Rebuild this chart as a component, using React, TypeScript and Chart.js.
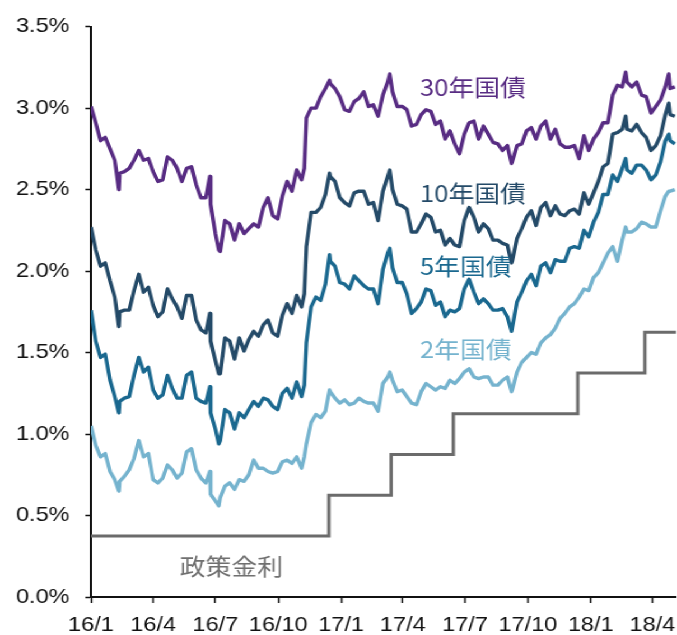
import { useEffect, useRef } from 'react';
import { Chart, registerables } from 'chart.js';

Chart.register(...registerables);

// Weekly observation dates (plus a few intra-week turning points)
const dates: string[] = [
  '2016-01-01','2016-01-08','2016-01-15','2016-01-22','2016-01-29','2016-02-05','2016-02-11','2016-02-12','2016-02-19','2016-02-26',
  '2016-03-04','2016-03-11','2016-03-18','2016-03-25','2016-04-01','2016-04-08','2016-04-15','2016-04-22','2016-04-29','2016-05-06',
  '2016-05-13','2016-05-20','2016-05-27','2016-06-03','2016-06-10','2016-06-17','2016-06-23','2016-06-24','2016-07-01','2016-07-06',
  '2016-07-08','2016-07-15','2016-07-22','2016-07-29','2016-08-05','2016-08-12','2016-08-19','2016-08-26','2016-09-02','2016-09-09',
  '2016-09-16','2016-09-23','2016-09-30','2016-10-07','2016-10-14','2016-10-21','2016-10-28','2016-11-04','2016-11-08','2016-11-11',
  '2016-11-18','2016-11-25','2016-12-02','2016-12-09','2016-12-15','2016-12-16','2016-12-23','2016-12-30',
  '2017-01-06','2017-01-13','2017-01-20','2017-01-27','2017-02-03','2017-02-10','2017-02-17','2017-02-24','2017-03-03','2017-03-10',
  '2017-03-13','2017-03-17','2017-03-24','2017-03-31','2017-04-07','2017-04-14','2017-04-21','2017-04-28','2017-05-05','2017-05-12',
  '2017-05-19','2017-05-26','2017-06-02','2017-06-09','2017-06-16','2017-06-23','2017-06-30','2017-07-07','2017-07-14','2017-07-21',
  '2017-07-28','2017-08-04','2017-08-11','2017-08-18','2017-08-25','2017-09-01','2017-09-07','2017-09-08','2017-09-15','2017-09-22',
  '2017-09-29','2017-10-06','2017-10-13','2017-10-20','2017-10-27','2017-11-03','2017-11-10','2017-11-17','2017-11-24','2017-12-01',
  '2017-12-08','2017-12-15','2017-12-22','2017-12-29',
  '2018-01-05','2018-01-12','2018-01-19','2018-01-26','2018-02-02','2018-02-09','2018-02-16','2018-02-21','2018-02-23','2018-03-02',
  '2018-03-09','2018-03-16','2018-03-23','2018-03-30','2018-04-06','2018-04-13','2018-04-20','2018-04-25','2018-04-27','2018-05-04',
];

const yield30: number[] = [
  3.01,2.91,2.80,2.82,2.75,2.68,2.50,2.60,2.61,2.63,
  2.68,2.74,2.68,2.69,2.61,2.55,2.56,2.70,2.68,2.63,
  2.55,2.63,2.64,2.53,2.45,2.45,2.58,2.41,2.23,2.13,
  2.12,2.31,2.29,2.19,2.29,2.23,2.26,2.29,2.27,2.39,
  2.45,2.34,2.32,2.46,2.55,2.49,2.62,2.56,2.63,2.94,
  3.00,3.00,3.07,3.12,3.17,3.15,3.12,3.07,
  2.99,2.98,3.04,3.06,3.10,3.01,3.02,2.95,3.08,3.16,
  3.21,3.10,3.01,3.01,2.99,2.89,2.90,2.96,2.99,2.98,
  2.90,2.92,2.81,2.86,2.78,2.72,2.84,2.91,2.92,2.81,
  2.89,2.84,2.79,2.78,2.74,2.77,2.66,2.67,2.77,2.78,
  2.86,2.88,2.81,2.89,2.92,2.81,2.87,2.78,2.76,2.76,
  2.77,2.69,2.83,2.74,
  2.81,2.85,2.91,2.91,3.08,3.14,3.13,3.22,3.16,3.13,
  3.16,3.08,3.07,2.97,3.01,3.05,3.13,3.21,3.12,3.13,
];

const yield10: number[] = [
  2.27,2.13,2.03,2.05,1.94,1.84,1.66,1.75,1.76,1.76,
  1.88,1.98,1.87,1.90,1.79,1.72,1.75,1.89,1.83,1.78,
  1.71,1.85,1.85,1.70,1.64,1.62,1.74,1.57,1.45,1.37,
  1.37,1.59,1.57,1.46,1.59,1.51,1.58,1.63,1.60,1.67,
  1.70,1.62,1.60,1.73,1.80,1.74,1.85,1.78,1.86,2.15,
  2.36,2.36,2.39,2.47,2.60,2.58,2.55,2.45,
  2.42,2.40,2.48,2.49,2.49,2.41,2.42,2.31,2.49,2.58,
  2.62,2.50,2.41,2.40,2.38,2.24,2.24,2.29,2.35,2.33,
  2.24,2.25,2.16,2.20,2.16,2.15,2.31,2.39,2.33,2.24,
  2.29,2.26,2.19,2.19,2.17,2.16,2.05,2.06,2.20,2.26,
  2.33,2.37,2.28,2.39,2.42,2.34,2.40,2.35,2.34,2.37,
  2.38,2.35,2.48,2.41,
  2.48,2.55,2.64,2.66,2.84,2.85,2.87,2.95,2.87,2.86,
  2.90,2.85,2.82,2.74,2.77,2.83,2.96,3.03,2.96,2.95,
];

const yield5: number[] = [
  1.76,1.57,1.47,1.49,1.33,1.23,1.13,1.20,1.22,1.23,
  1.36,1.47,1.38,1.41,1.27,1.22,1.24,1.36,1.28,1.22,
  1.22,1.36,1.38,1.22,1.20,1.19,1.29,1.13,1.03,0.94,
  0.96,1.15,1.13,1.03,1.13,1.10,1.15,1.20,1.17,1.22,
  1.21,1.17,1.15,1.25,1.28,1.22,1.32,1.23,1.30,1.56,
  1.78,1.84,1.82,1.92,2.10,2.06,2.03,1.93,
  1.92,1.89,1.97,1.94,1.91,1.89,1.89,1.80,2.01,2.11,
  2.14,2.02,1.93,1.93,1.86,1.74,1.77,1.81,1.89,1.88,
  1.79,1.81,1.72,1.76,1.75,1.77,1.89,1.95,1.87,1.80,
  1.83,1.80,1.76,1.76,1.77,1.72,1.63,1.65,1.81,1.87,
  1.94,1.98,1.91,2.03,2.05,1.99,2.07,2.06,2.06,2.14,
  2.15,2.14,2.25,2.21,
  2.30,2.36,2.47,2.47,2.59,2.55,2.63,2.69,2.62,2.60,
  2.65,2.65,2.62,2.56,2.59,2.67,2.80,2.84,2.80,2.78,
];

const yield2: number[] = [
  1.05,0.93,0.86,0.88,0.77,0.72,0.65,0.71,0.74,0.78,
  0.85,0.96,0.86,0.88,0.72,0.70,0.73,0.81,0.78,0.73,
  0.76,0.89,0.91,0.78,0.73,0.70,0.77,0.63,0.59,0.56,
  0.61,0.68,0.70,0.66,0.72,0.71,0.75,0.84,0.79,0.79,
  0.77,0.76,0.77,0.83,0.84,0.82,0.86,0.79,0.86,0.94,
  1.07,1.12,1.10,1.14,1.27,1.26,1.22,1.19,
  1.21,1.18,1.19,1.22,1.20,1.19,1.19,1.14,1.31,1.35,
  1.38,1.33,1.26,1.27,1.23,1.19,1.18,1.26,1.31,1.29,
  1.27,1.29,1.28,1.33,1.31,1.34,1.38,1.40,1.35,1.34,
  1.35,1.35,1.30,1.30,1.33,1.35,1.26,1.27,1.38,1.44,
  1.47,1.50,1.49,1.56,1.59,1.61,1.65,1.71,1.74,1.78,
  1.80,1.84,1.89,1.88,
  1.96,1.99,2.05,2.11,2.15,2.06,2.19,2.27,2.24,2.24,
  2.26,2.30,2.29,2.27,2.27,2.37,2.46,2.49,2.49,2.50,
];

// Policy rate (mid-point of the target range)
const policyDates: string[] = ['2016-01-01','2016-12-14','2017-03-15','2017-06-14','2017-12-13','2018-03-21','2018-05-06'];
const policyRate: number[] = [0.375,0.625,0.875,1.125,1.375,1.625,1.625];

const xTickDates: string[] = ['2016-01-01','2016-04-01','2016-07-01','2016-10-01','2017-01-01','2017-04-01','2017-07-01','2017-10-01','2018-01-01','2018-04-01'];
const xTickLabels: string[] = ['16/1','16/4','16/7','16/10','17/1','17/4','17/7','17/10','18/1','18/4'];
const xStart = '2016-01-01';
const xEnd = '2018-05-06';

const seriesLabels = [
  { text: '30年国債', date: '2017-04-26', value: 3.13, color: '#582C83' },
  { text: '10年国債', date: '2017-04-26', value: 2.48, color: '#244A68' },
  { text: '5年国債', date: '2017-04-26', value: 2.03, color: '#1A688F' },
  { text: '2年国債', date: '2017-04-26', value: 1.52, color: '#75B3CE' },
  { text: '政策金利', date: '2016-05-10', value: 0.19, color: '#707070' },
];

const toDay = (s: string) => {
  const [y, m, d] = s.split('-').map(Number);
  return (Date.UTC(y, m - 1, d) - Date.UTC(2016, 0, 1)) / 86400000;
};

const STRETCH = 1.12;
const WIDTH = 677 / STRETCH;
const HEIGHT = 635;
const tickFont = { family: '"Liberation Sans", Arial, sans-serif', size: 21 };

export default function App() {
  const ref = useRef<HTMLCanvasElement>(null);

  useEffect(() => {
    if (!ref.current) return;
    const pts = (vals: number[]) => dates.map((d, i) => ({ x: toDay(d), y: vals[i] }));
    const line = (label: string, vals: number[], color: string) => ({
      label,
      data: pts(vals),
      borderColor: color,
      backgroundColor: color,
      borderWidth: 3.4,
      pointRadius: 0,
      tension: 0,
      borderJoinStyle: 'round' as const,
    });

    const labelPlugin = {
      id: 'seriesLabels',
      afterDatasetsDraw(chart: any) {
        const { ctx, scales } = chart;
        ctx.save();
        ctx.font = '23px "Noto Sans CJK JP", sans-serif';
        ctx.textAlign = 'left';
        ctx.textBaseline = 'middle';
        for (const l of seriesLabels) {
          ctx.fillStyle = l.color;
          ctx.fillText(l.text, scales.x.getPixelForValue(toDay(l.date)), scales.y.getPixelForValue(l.value));
        }
        ctx.restore();
      },
    };

    const chart = new Chart(ref.current, {
      type: 'line',
      data: {
        datasets: [
          line('30年国債', yield30, '#582C83'),
          line('10年国債', yield10, '#244A68'),
          line('5年国債', yield5, '#1A688F'),
          line('2年国債', yield2, '#75B3CE'),
          {
            label: '政策金利',
            data: policyDates.map((d, i) => ({ x: toDay(d), y: policyRate[i] })),
            borderColor: '#6B6B6B',
            borderWidth: 3,
            pointRadius: 0,
            stepped: 'before',
          } as any,
        ],
      },
      options: {
        animation: false,
        responsive: true,
        maintainAspectRatio: false,
        layout: { padding: { top: 23, right: 0, bottom: 0, left: 0 } },
        plugins: { legend: { display: false }, tooltip: { enabled: false } },
        scales: {
          x: {
            type: 'linear',
            min: toDay(xStart),
            max: toDay(xEnd),
            afterBuildTicks: (s: any) => {
              s.ticks = xTickDates.map((d) => ({ value: toDay(d) }));
            },
            afterFit: (s: any) => {
              s.height = 38;
              s.paddingLeft = 0;
              s.paddingRight = 0;
            },
            ticks: {
              autoSkip: false,
              maxRotation: 0,
              padding: 10,
              color: '#111',
              font: tickFont,
              callback: (_v: any, i: number) => xTickLabels[i],
            },
            grid: { drawOnChartArea: false, drawTicks: true, tickLength: 6, color: '#111', tickWidth: 1.5 },
            border: { display: true, color: '#111', width: 2 },
          },
          y: {
            min: 0,
            max: 3.5,
            afterFit: (s: any) => {
              s.width = 81;
            },
            ticks: {
              stepSize: 0.5,
              padding: 14,
              color: '#111',
              font: tickFont,
              callback: (v: any) => Number(v).toFixed(1) + '%',
            },
            grid: { drawOnChartArea: false, drawTicks: true, tickLength: 5, color: '#111', tickWidth: 1.5 },
            border: { display: true, color: '#111', width: 2 },
          },
        },
      },
      plugins: [labelPlugin],
    });
    return () => chart.destroy();
  }, []);

  return (
    <div
      style={{
        position: 'absolute',
        left: 0,
        top: 0,
        width: WIDTH,
        height: HEIGHT,
        transform: `scaleX(${STRETCH})`,
        transformOrigin: '0 0',
        background: '#fff',
      }}
    >
      <canvas ref={ref} />
    </div>
  );
}
